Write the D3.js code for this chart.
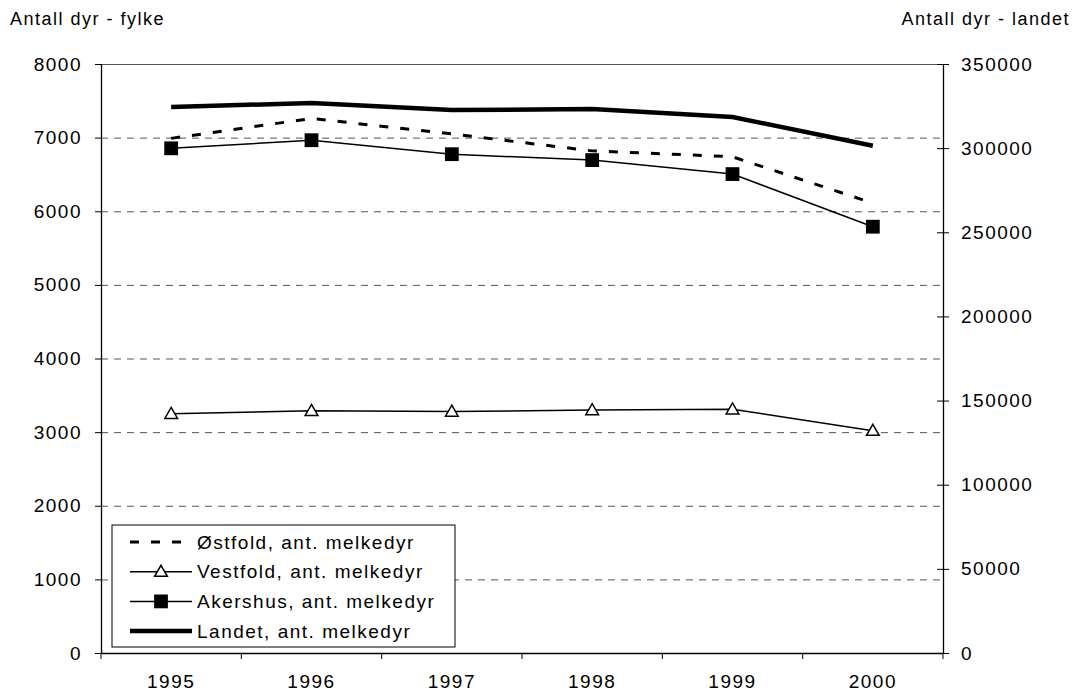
<!DOCTYPE html>
<html lang="no">
<head>
<meta charset="UTF-8">
<title>Antall melkedyr</title>
<script src="https://d3js.org/d3.v7.min.js"></script>
<style>
  body { margin: 0; background: #fff; }
  text { font-family: "Liberation Sans", Arial, sans-serif; fill: #000; }
</style>
</head>
<body>
<svg id="chart" width="1076" height="696"></svg>
<script>
// data
var years = ['1995', '1996', '1997', '1998', '1999', '2000'];
var ostfold  = [6990, 7260, 7050, 6820, 6740, 6110];
var vestfold = [3250, 3290, 3280, 3300, 3310, 3020];
var akershus = [6855, 6965, 6775, 6695, 6505, 5790];
var landet   = [324500, 326800, 322600, 323200, 318500, 301400];
var leftTicks  = [0, 1000, 2000, 3000, 4000, 5000, 6000, 7000, 8000];
var rightTicks = [0, 50000, 100000, 150000, 200000, 250000, 300000, 350000];
var seriesNames = ['Østfold, ant. melkedyr', 'Vestfold, ant. melkedyr',
                   'Akershus, ant. melkedyr', 'Landet, ant. melkedyr'];

var svg = d3.select('#chart');
var pLeft = 101, pRight = 943, pTop = 64, pBottom = 653;

var x = d3.scaleBand().domain(years).range([pLeft, pRight]);
var yL = d3.scaleLinear().domain([0, 8000]).range([pBottom, pTop]);
var yR = d3.scaleLinear().domain([0, 350000]).range([pBottom, pTop]);
var cx = function(d, i) { return x(years[i]) + x.bandwidth() / 2; };

// gridlines
svg.append('g').selectAll('line')
  .data(leftTicks.filter(function(d){ return d > 0; }))
  .enter().append('line')
  .attr('x1', pLeft).attr('x2', pRight)
  .attr('y1', function(d){ return yL(d) + 0.5; }).attr('y2', function(d){ return yL(d) + 0.5; })
  .attr('stroke', '#555').attr('stroke-width', 1)
  .attr('stroke-dasharray', function(d){ return d == 8000 ? null : '7,6'; });

// axes
var axL = svg.append('g').attr('transform', 'translate(' + pLeft + ',0)')
  .call(d3.axisLeft(yL).tickValues(leftTicks).tickSize(6).tickPadding(13).tickFormat(d3.format('d')));
var axR = svg.append('g').attr('transform', 'translate(' + pRight + ',0)')
  .call(d3.axisRight(yR).tickValues(rightTicks).tickSize(6).tickPadding(12).tickFormat(d3.format('d')));
axR.selectAll('.tick line').attr('x1', -6);
var axB = svg.append('g').attr('transform', 'translate(0,' + pBottom + ')')
  .call(d3.axisBottom(x).tickSize(0).tickPadding(22));
axB.selectAll('.tick line').remove();
axB.append('g').selectAll('line')
  .data(d3.range(years.length + 1))
  .enter().append('line')
  .attr('x1', function(i){ return pLeft + i * x.bandwidth(); })
  .attr('x2', function(i){ return pLeft + i * x.bandwidth(); })
  .attr('y1', 0).attr('y2', 6).attr('stroke', '#000');

[axL, axR, axB].forEach(function(a) {
  a.select('.domain').attr('stroke', '#000').attr('stroke-width', 1.3);
  a.selectAll('.tick line').attr('stroke', '#000');
  a.selectAll('text').style('font-size', '19px').style('letter-spacing', '1.5px')
    .style('font-family', '"Liberation Sans", Arial, sans-serif');
});
axL.select('.domain').attr('d', 'M0.5,' + pTop + 'V' + pBottom);
axR.select('.domain').attr('d', 'M0.5,' + pTop + 'V' + pBottom);
axB.select('.domain').attr('d', 'M' + pLeft + ',0.5H' + pRight);

// axis titles
svg.append('text').attr('x', 10).attr('y', 25).text('Antall dyr - fylke')
  .style('font-size', '18px').style('letter-spacing', '1.5px');
svg.append('text').attr('x', 1070).attr('y', 25).attr('text-anchor', 'end').text('Antall dyr - landet')
  .style('font-size', '18px').style('letter-spacing', '1.5px');

// lines
var lineL = d3.line().x(cx).y(function(d){ return yL(d); });
var lineR = d3.line().x(cx).y(function(d){ return yR(d); });

svg.append('path').attr('d', lineL(ostfold)).attr('fill', 'none')
  .attr('stroke', '#000').attr('stroke-width', 3).attr('stroke-dasharray', '9,12');
svg.append('path').attr('d', lineL(vestfold)).attr('fill', 'none')
  .attr('stroke', '#000').attr('stroke-width', 1.5);
svg.append('path').attr('d', lineL(akershus)).attr('fill', 'none')
  .attr('stroke', '#000').attr('stroke-width', 1.5);
svg.append('path').attr('d', lineR(landet)).attr('fill', 'none')
  .attr('stroke', '#000').attr('stroke-width', 4.5);

var tri = d3.symbol().type(d3.symbolTriangle).size(70);
var sq = d3.symbol().type(d3.symbolSquare).size(190);

svg.append('g').selectAll('path').data(vestfold).enter().append('path')
  .attr('d', tri)
  .attr('transform', function(d, i){ return 'translate(' + cx(d, i) + ',' + (yL(d) + 1) + ')'; })
  .attr('fill', '#fff').attr('stroke', '#000').attr('stroke-width', 1.5);
svg.append('g').selectAll('path').data(akershus).enter().append('path')
  .attr('d', sq)
  .attr('transform', function(d, i){ return 'translate(' + cx(d, i) + ',' + yL(d) + ')'; })
  .attr('fill', '#000');

// legend
var lg = svg.append('g');
lg.append('rect').attr('x', 112).attr('y', 525).attr('width', 343).attr('height', 122)
  .attr('fill', '#fff').attr('stroke', '#000').attr('stroke-width', 1);
var rows = lg.selectAll('g.row').data(seriesNames).enter().append('g')
  .attr('transform', function(d, i){ return 'translate(0,' + (542 + i * 29.7) + ')'; });
rows.append('line').attr('x1', 130).attr('x2', 192).attr('y1', 0).attr('y2', 0)
  .attr('stroke', '#000')
  .attr('stroke-width', function(d, i){ return [3, 1.5, 1.5, 4.5][i]; })
  .attr('stroke-dasharray', function(d, i){ return i == 0 ? '9,12' : null; });
rows.filter(function(d, i){ return i == 1; }).append('path').attr('d', tri)
  .attr('transform', 'translate(161,1)').attr('fill', '#fff').attr('stroke', '#000').attr('stroke-width', 1.5);
rows.filter(function(d, i){ return i == 2; }).append('path').attr('d', sq)
  .attr('transform', 'translate(161,0)').attr('fill', '#000');
rows.append('text').attr('x', 197).attr('y', 0).attr('dy', '0.35em').text(function(d){ return d; })
  .style('font-size', '19px').style('letter-spacing', '1.5px');
</script>
</body>
</html>
